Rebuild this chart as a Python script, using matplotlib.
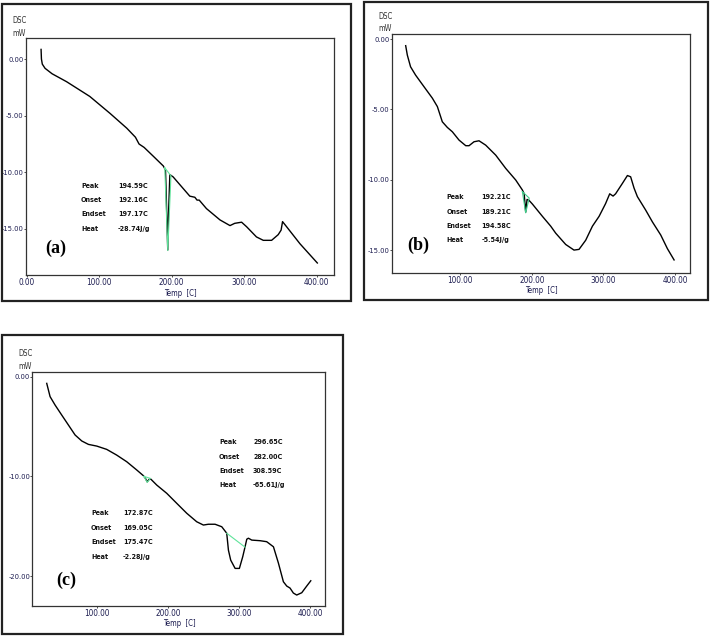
import matplotlib
matplotlib.use("Agg")
import matplotlib.pyplot as plt
from matplotlib.patches import Rectangle
from matplotlib import font_manager
from matplotlib.font_manager import FontProperties

W, H = 710, 636

# ---------------- data ----------------
a_temp = [19.8, 20.3, 21.5, 25.3, 35, 55, 87, 115, 138, 150, 155, 162, 175, 188.5,
          191.5, 192.5, 194.6, 195.5, 197.5, 202, 225, 232, 235, 238, 248, 266.7,
          280.5, 287, 296.5, 303.4, 317, 326.4, 337.9, 347, 351, 353, 358.6, 377, 401]
a_dsc = [0.85, 0.0, -0.45, -0.82, -1.3, -2.0, -3.3, -4.8, -6.1, -6.9, -7.5, -7.8, -8.6, -9.44,
         -9.8, -12.0, -16.85, -14.0, -10.2, -10.4, -12.1, -12.2, -12.45, -12.45, -13.2, -14.2,
         -14.7, -14.5, -14.4, -14.8, -15.7, -16.0, -16.0, -15.5, -15.1, -14.35, -14.8, -16.3, -18.0]
a_green_temp = [190.5, 194.6, 199.0, 190.5]
a_green_dsc = [-9.6, -16.9, -10.3, -9.6]

b_temp = [24.2, 26.5, 31, 38, 49.8, 61.4, 68.4, 75.3, 82.3, 89.3, 98.6, 108, 112.6, 119.5,
          126.5, 135.8, 149.8, 163.7, 177.7, 187, 189.5, 191.6, 193.5, 196, 201, 214.9,
          226.5, 233.5, 247.4, 259, 266, 275.3, 284.7, 294, 303, 308.8, 313.5, 317, 326.5,
          333.5, 338, 342.8, 347.4, 359, 368.4, 380, 389.3, 398.6]
b_dsc = [-0.47, -1.14, -1.97, -2.56, -3.39, -4.2, -4.8, -5.88, -6.28, -6.59, -7.18, -7.58, -7.58, -7.3,
         -7.23, -7.54, -8.25, -9.19, -10.02, -10.73, -11.0, -12.3, -11.4, -11.45, -11.73, -12.6,
         -13.3, -13.8, -14.6, -15.0, -14.95, -14.3, -13.3, -12.6, -11.7, -11.0, -11.16, -11.0, -10.26,
         -9.7, -9.79, -10.6, -11.2, -12.16, -13.0, -13.93, -14.9, -15.7]
b_green_temp = [187.0, 191.6, 196.5, 187.0]
b_green_dsc = [-10.85, -12.35, -11.3, -10.85]

c_temp = [29.7, 34.4, 41.4, 50.8, 60.2, 69.6, 79, 88.3, 100, 114, 128, 142.2, 156.3, 165.6,
          168.5, 171, 173.5, 176, 184.4, 198.5, 212.5, 226.6, 240.6, 250, 257, 266.4, 275.8,
          282.8, 285.2, 288.4, 294.6, 300.6, 305.3, 308.6, 311, 313.3, 318, 329.7, 339, 348.5,
          355.5, 362.5, 367.2, 371.8, 376.5, 381.2, 388.3, 395.3, 401]
c_dsc = [-0.67, -2.0, -2.84, -3.85, -4.85, -5.85, -6.45, -6.79, -6.96, -7.29, -7.86, -8.53, -9.36, -9.93,
         -10.2, -10.55, -10.3, -10.27, -10.87, -11.7, -12.7, -13.7, -14.55, -14.88, -14.8, -14.8, -15.05,
         -15.7, -17.4, -18.4, -19.23, -19.23, -18.06, -17.06, -16.3, -16.2, -16.39, -16.45, -16.55, -17.06,
         -18.7, -20.57, -21.0, -21.2, -21.7, -21.9, -21.67, -21.0, -20.47]
c_green1_temp = [166.5, 171.0, 175.5, 166.5]
c_green1_dsc = [-10.0, -10.6, -10.2, -10.0]
c_green2_temp = [282.8, 308.6]
c_green2_dsc = [-15.7, -17.1]

ann_keys = ["Peak", "Onset", "Endset", "Heat"]
a_vals = ["194.59C", "192.16C", "197.17C", "-28.74J/g"]
b_vals = ["192.21C", "189.21C", "194.58C", "-5.54J/g"]
c_vals1 = ["172.87C", "169.05C", "175.47C", "-2.28J/g"]
c_vals2 = ["296.65C", "282.00C", "308.59C", "-65.61J/g"]

a_xticks = [0, 100, 200, 300, 400]
a_yticks = [0, -5, -10, -15]
b_xticks = [100, 200, 300, 400]
b_yticks = [0, -5, -10, -15]
c_xticks = [100, 200, 300, 400]
c_yticks = [0, -10, -20]


# ---------------- fonts ----------------
def _is_bold(w):
    if isinstance(w, str):
        return w in ("bold", "heavy", "extra bold", "black", "demibold", "semibold")
    return w >= 600


def _pick_condensed(bold):
    for f in font_manager.fontManager.ttflist:
        n = f.name
        st = f.stretch
        cond = ("Narrow" in n) or ("Condensed" in n) or (st in ("condensed", "semi-condensed")) \
            or (isinstance(st, (int, float)) and st < 500)
        if cond and "Serif" not in n and "Mono" not in n and f.style == "normal" \
                and _is_bold(f.weight) == bold:
            return f.fname
    return None


_reg = _pick_condensed(False)
_bld = _pick_condensed(True)
if _reg and _bld:
    def FP(size, bold=False):
        return FontProperties(fname=_bld if bold else _reg, size=size)
    XT_SIZE, YT_SIZE, LAB_SIZE, ANN_SIZE = 5.9, 5.4, 5.5, 5.1
else:
    def FP(size, bold=False):
        return FontProperties(family=["Liberation Sans", "DejaVu Sans"], size=size,
                              weight="bold" if bold else "normal")
    XT_SIZE, YT_SIZE, LAB_SIZE, ANN_SIZE = 5.8, 5.5, 5.6, 5.4

# ---------------- drawing ----------------
fig = plt.figure(figsize=(W / 100, H / 100), dpi=100)
fig.patch.set_facecolor("white")

NAVY = "#1c1c50"
GREEN = "#5fe39a"
SERIF = ["Liberation Serif", "DejaVu Serif"]


def frame(l, t, r, b):
    fig.patches.append(Rectangle((l / W, 1 - b / H), (r - l) / W, (b - t) / H,
                                 transform=fig.transFigure, fill=False,
                                 edgecolor="#222222", linewidth=1.6))


def mkax(l, t, r, b):
    ax = fig.add_axes([l / W, 1 - b / H, (r - l) / W, (b - t) / H])
    for s in ax.spines.values():
        s.set_color("#333333")
        s.set_linewidth(0.9)
    ax.tick_params(axis="x", length=1.5, width=0.6, color="#333333", labelcolor=NAVY, pad=0.8)
    ax.tick_params(axis="y", length=1.3, width=0.6, color="#333333", labelcolor=NAVY, pad=0.3)
    return ax


def ftext(x, y, s, fp, **kw):
    fig.text(x / W, 1 - y / H, s, fontproperties=fp, **kw)


def table(xk, xv, ys, vals):
    for k, v, y in zip(ann_keys, vals, ys):
        ftext(xk, y, k, FP(ANN_SIZE, True), va="center", color="#111111")
        ftext(xv, y, v, FP(ANN_SIZE, True), va="center", color="#111111")


def setup(ax, xlim, ylim, xt, yt):
    ax.set_xlim(*xlim)
    ax.set_ylim(*ylim)
    ax.set_xticks(xt)
    ax.set_xticklabels([f"{v:.2f}" for v in xt], fontproperties=FP(XT_SIZE))
    ax.set_yticks(yt)
    ax.set_yticklabels([f"{v:.2f}" for v in yt], fontproperties=FP(YT_SIZE))


def labels(xc, yx, xl, yd, ym):
    ftext(xc, yx, "Temp  [C]", FP(LAB_SIZE), ha="center", va="center", color=NAVY)
    ftext(xl, yd, "DSC", FP(LAB_SIZE), va="center", color="#333333")
    ftext(xl, ym, "mW", FP(LAB_SIZE), va="center", color="#333333")


def plabel(x, y, s):
    fig.text(x / W, 1 - y / H, s, fontsize=13, fontweight="bold", family=SERIF,
             ha="center", va="center")


# Panel (a)
frame(2, 4, 351, 301)
ax = mkax(26, 38.3, 334, 275)
ax.plot(a_temp, a_dsc, color="black", lw=1.0)
ax.plot(a_green_temp, a_green_dsc, color=GREEN, lw=0.8)
setup(ax, (-1, 424), (-19.06, 1.83), a_xticks, a_yticks)
labels(180, 293, 12, 20.5, 33.5)
table(81, 118, [185.7, 200, 214.3, 229], a_vals)
plabel(56, 248, "(a)")

# Panel (b)
frame(363.5, 2, 708, 300)
ax = mkax(391.7, 34, 690, 273.3)
ax.plot(b_temp, b_dsc, color="black", lw=1.0)
ax.plot(b_green_temp, b_green_dsc, color="#3fcf8a", lw=0.8)
setup(ax, (4.7, 420.8), (-16.65, 0.36), b_xticks, b_yticks)
labels(541, 291, 378, 16.5, 28.5)
table(446.7, 481.7, [196.7, 211.7, 226, 240], b_vals)
plabel(418, 245, "(b)")

# Panel (c)
frame(2, 335, 343, 634)
ax = mkax(32.3, 372, 325, 606)
ax.plot(c_temp, c_dsc, color="black", lw=1.0)
ax.plot(c_green1_temp, c_green1_dsc, color=GREEN, lw=0.8)
ax.plot(c_green2_temp, c_green2_dsc, color=GREEN, lw=0.8)
setup(ax, (9.4, 421), (-23.0, 0.47), c_xticks, c_yticks)
labels(179, 624, 18, 354, 366.5)
table(219, 253, [442, 457, 471, 485], c_vals2)
table(91, 123, [513, 528, 542, 557], c_vals1)
plabel(66, 580, "(c)")

fig.savefig("out.png", dpi=100, facecolor="white")
